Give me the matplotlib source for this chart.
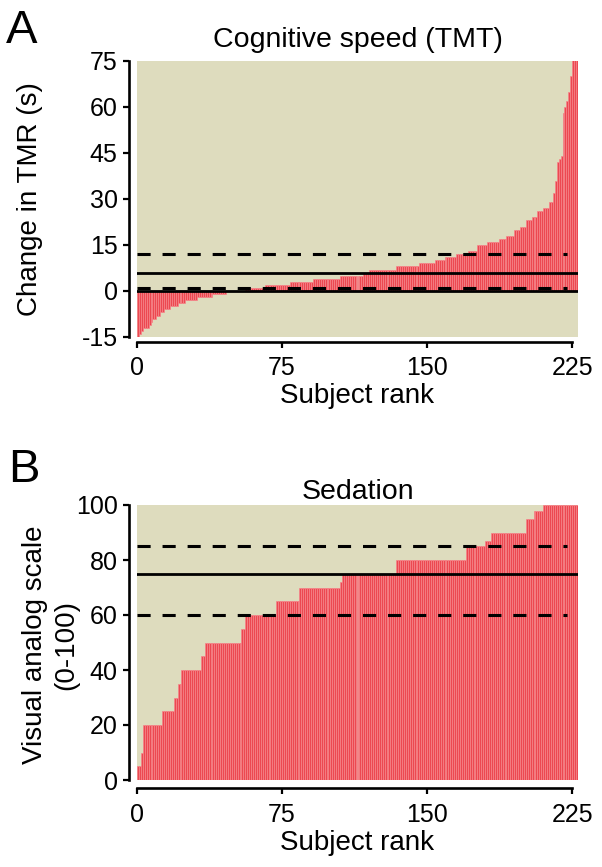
import numpy as np
import matplotlib
matplotlib.use("Agg")
import matplotlib.pyplot as plt

plt.rcParams['font.family'] = ['Liberation Sans', 'DejaVu Sans']
plt.rcParams['axes.unicode_minus'] = False

# ---- Data (sorted per-subject values, encoded as step levels and run lengths) ----
tmt_levels = [-15, -14, -13, -12, -11, -10, -9, -8, -7, -6, -5, -4, -3, -2, -1, 0, 1, 2, 3, 4,
              5, 6, 7, 8, 9, 10, 11, 12, 13, 15, 16, 17, 18, 20, 21, 23, 24, 26, 27, 29,
              32, 36, 42, 43, 44, 58, 60, 62, 65, 70, 78, 85, 90]
tmt_counts = [1, 1, 1, 3, 1, 1, 2, 2, 2, 3, 4, 4, 6, 8, 7, 10, 10, 13, 12, 14,
              12, 3, 14, 12, 8, 5, 6, 6, 5, 5, 6, 4, 4, 3, 3, 3, 3, 3, 3, 2,
              1, 1, 1, 1, 1, 1, 1, 1, 1, 1, 1, 1, 1]
tmt_mean = 6
tmt_ci = [1, 12]

vas_levels = [5, 10, 20, 25, 30, 35, 40, 45, 50, 55, 60, 65, 70, 72, 75, 80, 85, 87, 90, 95, 98, 100]
vas_counts = [2, 1, 10, 6, 2, 2, 10, 2, 19, 2, 16, 12, 21, 1, 28, 36, 10, 3, 18, 4, 5, 18]
vas_mean = 75
vas_ci = [60, 85]

tmt_values = np.repeat(tmt_levels, tmt_counts)
vas_values = np.repeat(vas_levels, vas_counts)

x_ticks = [0, 75, 150, 225]
tmt_yticks = [-15, 0, 15, 30, 45, 60, 75]
vas_yticks = [0, 20, 40, 60, 80, 100]

BG = '#DEDCBE'
BAR = '#EC4851'
BAR_EDGE = '#F6848A'

W, H = 602, 867
fig = plt.figure(figsize=(W / 100, H / 100), dpi=100)


def style_axes(ax, yticks, ylim, bottom_off):
    ax.set_facecolor(BG)
    for s in ['top', 'right']:
        ax.spines[s].set_visible(False)
    ax.spines['left'].set_position(('outward', 5.5))
    ax.spines['bottom'].set_position(('outward', bottom_off))
    ax.spines['left'].set_linewidth(1.9)
    ax.spines['bottom'].set_linewidth(1.9)
    ax.set_xticks(x_ticks)
    ax.set_yticks(yticks)
    ax.spines['left'].set_bounds(ylim[0], ylim[1])
    ax.spines['bottom'].set_bounds(x_ticks[0], x_ticks[-1])
    ax.tick_params(axis='both', direction='out', length=4.5, width=1.6, labelsize=18)
    ax.tick_params(axis='y', pad=4)
    ax.tick_params(axis='x', pad=6)


def draw(ax, values, mean, ci, ylim, yticks, bottom_off):
    n = len(values)
    ranks = np.arange(n)
    ax.bar(ranks, values, width=1.0, align='edge', color=BAR, edgecolor=BAR_EDGE,
           linewidth=0.5, zorder=2)
    ax.set_xlim(0, n)
    ax.set_ylim(*ylim)
    ax.axhline(mean, color='black', lw=2.0, zorder=3)
    for c in ci:
        ax.plot([0, n - 5.5], [c, c], color='black', lw=2.2, dashes=(4.3, 3.9), zorder=3)
    style_axes(ax, yticks, ylim, bottom_off)
    ax.set_xlabel('Subject rank', fontsize=20, labelpad=2)


axA = fig.add_axes([137 / W, 1 - 337 / H, 441 / W, 276 / H])
draw(axA, tmt_values, tmt_mean, tmt_ci, (-15, 75), tmt_yticks, 3.5)
axA.axhline(0, color='black', lw=2.0, zorder=3)
axA.set_title('Cognitive speed (TMT)', fontsize=20.5, pad=10)
axA.set_ylabel('Change in TMR (s)', fontsize=20)
axA.yaxis.set_label_coords((43 - 137) / 441, 0.5)

axB = fig.add_axes([137 / W, 1 - 780 / H, 441 / W, 275 / H])
draw(axB, vas_values, vas_mean, vas_ci, (0, 100), vas_yticks, 6)
axB.set_title('Sedation', fontsize=20.5, pad=4)
axB.set_ylabel('Visual analog scale\n(0-100)', fontsize=20, linespacing=1.25)
axB.yaxis.set_label_coords((79 - 137) / 441, 0.49)

fig.text(6 / W, 1 - 43 / H, 'A', fontsize=34, ha='left', va='baseline')
fig.text(8 / W, 1 - 482 / H, 'B', fontsize=34, ha='left', va='baseline')

fig.savefig('out.png', dpi=100)
